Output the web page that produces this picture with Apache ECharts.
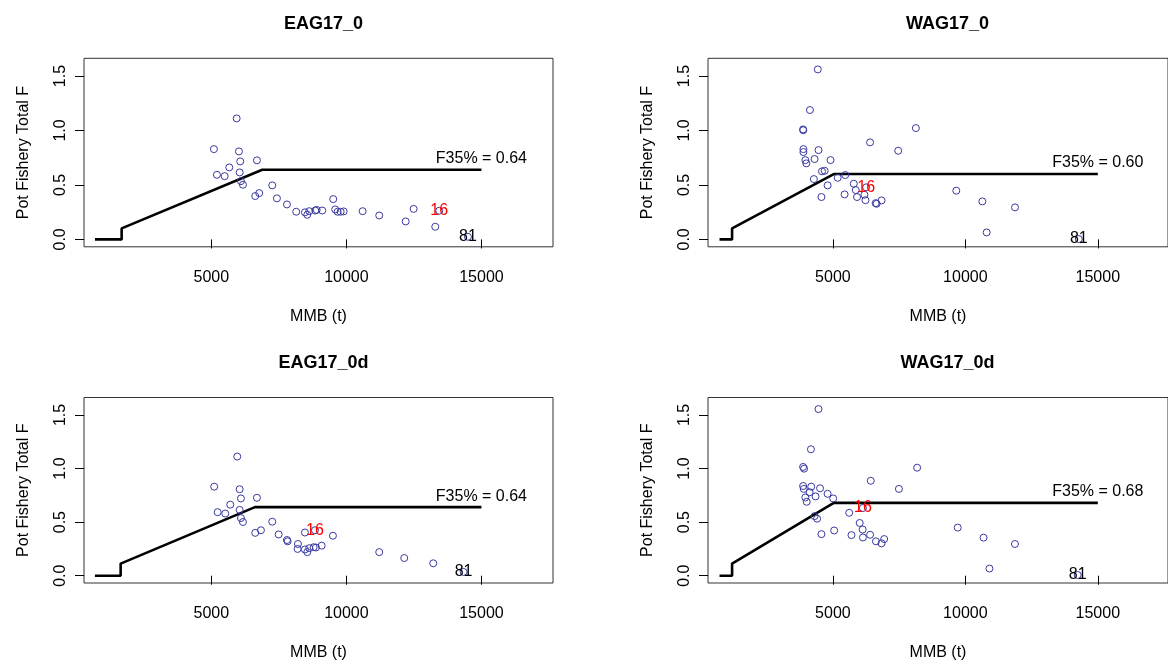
<!DOCTYPE html>
<html>
<head>
<meta charset="utf-8">
<script src="https://cdn.jsdelivr.net/npm/echarts@6/dist/echarts.min.js"></script>
<style>html,body{margin:0;padding:0;background:#fff;}#c{width:1168px;height:662px;}</style>
</head>
<body>
<div id="c"></div>
<script>
// ---------- data ----------
const titles = ['EAG17_0', 'WAG17_0', 'EAG17_0d', 'WAG17_0d'];
const xTicks = [5000, 10000, 15000];
const yTicks = [0, 0.5, 1.0, 1.5];
const xName = 'MMB (t)';
const yName = 'Pot Fishery Total F';
const f35 = [0.64, 0.60, 0.64, 0.68];

// EAG17_0
const eag0_mmb = [5937,5096,6022,6070,6688,5663,5207,5492,6048,6096,6170,7255,6625,6773,7429,7799,8143,8465,8551,8625,8847,8899,9106,9513,9587,9676,9787,9898,10602,11216,12194,12490,13290];
const eag0_F   = [1.111,0.829,0.808,0.716,0.726,0.661,0.593,0.581,0.615,0.535,0.502,0.496,0.398,0.425,0.377,0.321,0.254,0.248,0.226,0.259,0.265,0.271,0.265,0.370,0.275,0.254,0.254,0.257,0.259,0.220,0.165,0.280,0.116];
const eag0_lab = ['16', '81'];
const eag0_labB = [13438, 14500];
const eag0_labF = [0.263, 0.024];
const eag0_ruleB = [690, 1679, 1679, 6884, 15000];
const eag0_ruleF = [0, 0, 0.101, 0.64, 0.64];

// WAG17_0
const wag0_mmb = [4430,4134,3875,3880,3886,3886,4456,3960,3997,4308,4911,4589,4689,4282,4800,4567,5181,5466,5441,5789,5863,5911,6190,6230,6614,6651,6836,6403,7466,8132,9658,10642,10805,11875];
const wag0_F   = [1.561,1.188,1.010,1.002,0.829,0.802,0.820,0.728,0.698,0.738,0.728,0.625,0.630,0.554,0.496,0.389,0.566,0.591,0.413,0.511,0.453,0.389,0.410,0.360,0.333,0.327,0.358,0.891,0.814,1.022,0.447,0.349,0.064,0.294];
const wag0_lab = ['16', '81'];
const wag0_labB = [6255, 14282];
const wag0_labF = [0.478, 0.003];
const wag0_ruleB = [720, 1194, 1194, 5033, 15000];
const wag0_ruleF = [0, 0, 0.101, 0.60, 0.60];

// EAG17_0d
const eag0d_mmb = [5959,5107,6048,6096,6688,5700,5233,5515,6048,6096,6170,7255,6625,6836,7492,7799,7825,8206,8195,8465,8551,8625,8787,8873,9084,8465,9502,11216,12142,13216];
const eag0d_F   = [1.112,0.831,0.807,0.721,0.727,0.663,0.593,0.580,0.614,0.538,0.501,0.504,0.400,0.424,0.385,0.333,0.321,0.296,0.250,0.245,0.220,0.257,0.266,0.263,0.281,0.403,0.373,0.220,0.165,0.116];
const eag0d_lab = ['16', '81'];
const eag0d_labB = [8836, 14340];
const eag0d_labF = [0.424, 0.035];
const eag0d_ruleB = [690, 1642, 1642, 6614, 15000];
const eag0d_ruleF = [0, 0, 0.113, 0.64, 0.64];

// WAG17_0d
const wag0d_mmb = [4456,4171,3875,3912,3875,3900,4182,4515,4123,3960,4011,4345,4800,5011,4308,4404,4567,5048,5615,6011,6122,5700,6133,6403,6625,6836,6936,6429,7492,8180,9713,10687,11872,10909];
const wag0d_F   = [1.555,1.180,1.015,0.999,0.837,0.810,0.831,0.816,0.779,0.730,0.690,0.740,0.764,0.721,0.556,0.532,0.388,0.422,0.587,0.492,0.431,0.379,0.357,0.382,0.321,0.302,0.342,0.886,0.810,1.008,0.449,0.355,0.296,0.067];
const wag0d_lab = ['16', '81'];
const wag0d_labB = [6133, 14241];
const wag0d_labF = [0.632, 0.006];
const wag0d_ruleB = [720, 1194, 1194, 5033, 15000];
const wag0d_ruleF = [0, 0, 0.113, 0.68, 0.68];

// ---------- build ----------
const panels = [
  {B: eag0_mmb, F: eag0_F, lab: eag0_lab, labB: eag0_labB, labF: eag0_labF, rB: eag0_ruleB, rF: eag0_ruleF},
  {B: wag0_mmb, F: wag0_F, lab: wag0_lab, labB: wag0_labB, labF: wag0_labF, rB: wag0_ruleB, rF: wag0_ruleF},
  {B: eag0d_mmb, F: eag0d_F, lab: eag0d_lab, labB: eag0d_labB, labF: eag0d_labF, rB: eag0d_ruleB, rF: eag0d_ruleF},
  {B: wag0d_mmb, F: wag0d_F, lab: wag0d_lab, labB: wag0d_labB, labF: wag0d_labF, rB: wag0d_ruleB, rF: wag0d_ruleF}
];
const FONT = '"Liberation Sans", Arial, sans-serif';
const lefts = [84, 708, 84, 708];
const tops = [58.3, 58.3, 397.5, 397.5];
const W = 469, H = 188.5;
const labColor = {'16': '#ff0000', '81': '#000000'};
const ptColor = '#3a3aa0';

const grid = [], xAxis = [], yAxis = [], series = [], title = [];
panels.forEach((p, i) => {
  grid.push({left: lefts[i], top: tops[i], width: W, height: H, show: true,
    borderColor: '#333', borderWidth: 1, backgroundColor: 'transparent'});
  title.push({text: titles[i], left: lefts[i] + W / 2, top: tops[i] - 48.5, textAlign: 'center',
    textStyle: {fontFamily: FONT, fontSize: 18, fontWeight: 'bold', color: '#000'}});
  xAxis.push({type: 'value', gridIndex: i, min: 285, max: 17650,
    name: xName, nameLocation: 'middle', nameGap: 62,
    nameTextStyle: {fontFamily: FONT, fontSize: 16, color: '#000'},
    axisLine: {show: false}, splitLine: {show: false},
    axisTick: {show: true, length: 9, customValues: xTicks, lineStyle: {color: '#000'}},
    axisLabel: {customValues: xTicks, margin: 23, fontFamily: FONT, fontSize: 16, color: '#000',
      formatter: v => String(Math.round(v))}});
  yAxis.push({type: 'value', gridIndex: i, min: -0.068, max: 1.663,
    name: yName, nameLocation: 'middle', nameGap: 52, nameRotate: 90,
    nameTextStyle: {fontFamily: FONT, fontSize: 16, color: '#000'},
    axisLine: {show: false}, splitLine: {show: false},
    axisTick: {show: true, length: 9, customValues: yTicks, lineStyle: {color: '#000'}},
    axisLabel: {customValues: yTicks, rotate: 90, margin: 15, fontFamily: FONT, fontSize: 16, color: '#000',
      formatter: v => Number(v).toFixed(1)}});
  series.push({type: 'line', xAxisIndex: i, yAxisIndex: i, showSymbol: false, silent: true,
    data: p.rB.map((b, k) => [b, p.rF[k]]), lineStyle: {color: '#000', width: 2.6}, z: 2, animation: false});
  series.push({type: 'scatter', xAxisIndex: i, yAxisIndex: i, symbol: 'circle', symbolSize: 7,
    data: p.B.map((b, k) => [b, p.F[k]]),
    itemStyle: {color: 'rgba(0,0,0,0)', borderColor: ptColor, borderWidth: 1, opacity: 1}, z: 3, animation: false});
  series.push({type: 'scatter', xAxisIndex: i, yAxisIndex: i, symbol: 'circle', symbolSize: 7,
    data: p.lab.map((s, k) => ({value: [p.labB[k], p.labF[k]], name: s, label: {color: labColor[s]}})),
    itemStyle: {color: 'rgba(0,0,0,0)', borderColor: ptColor, borderWidth: 1, opacity: 1},
    label: {show: true, position: 'inside', formatter: d => d.name, fontFamily: FONT, fontSize: 16,
      textBorderWidth: 0},
    z: 4, animation: false});
  series.push({type: 'scatter', xAxisIndex: i, yAxisIndex: i, symbolSize: 0,
    data: [[15000, f35[i]]], itemStyle: {opacity: 1},
    label: {show: true, position: 'top', distance: 3, formatter: () => 'F35% = ' + f35[i].toFixed(2),
      fontFamily: FONT, fontSize: 16, color: '#000', textBorderWidth: 0}, z: 4, animation: false});
});

const chart = echarts.init(document.getElementById('c'), null, {renderer: 'canvas'});
chart.setOption({backgroundColor: '#fff', animation: false, title, grid, xAxis, yAxis, series});
</script>
</body>
</html>
